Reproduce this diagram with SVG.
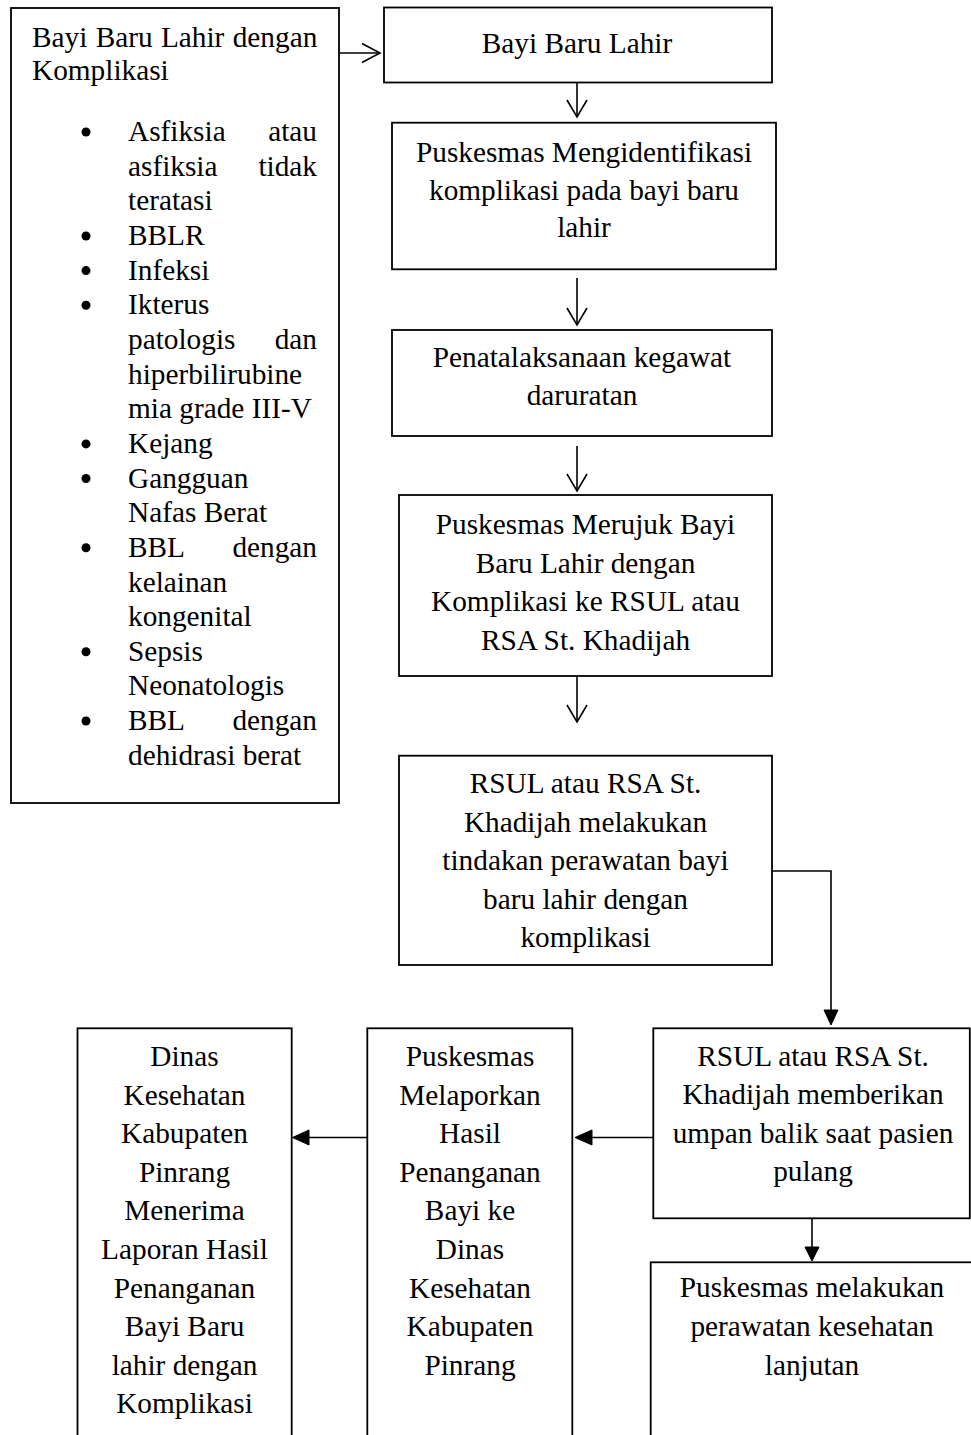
<svg xmlns="http://www.w3.org/2000/svg" width="971" height="1435" viewBox="0 0 971 1435">
<style>
  .box { fill: #fff; stroke: #000; stroke-width: 1.8; }
  .t { font-family: "Liberation Serif", "Times New Roman", serif; font-size: 29.3px; fill: #000; }
  .c { text-anchor: middle; }
  .e { text-anchor: end; }
  .ln { fill: none; stroke: #000; stroke-width: 1.6; }
  .head { fill: #000; stroke: #000; stroke-width: 1; }
</style>
<rect width="971" height="1435" fill="#fff"/>

<g id="connectors">
  <!-- left box to Bayi Baru Lahir -->
  <line class="ln" x1="339" y1="53" x2="380" y2="53"/>
  <polyline class="ln" points="362,43.5 380,53 362,62.5"/>
  <!-- vertical open arrows -->
  <line class="ln" x1="577" y1="83" x2="577" y2="117"/>
  <polyline class="ln" points="567,100 577,117 587,100"/>
  <line class="ln" x1="577" y1="278" x2="577" y2="325"/>
  <polyline class="ln" points="567,308 577,325 587,308"/>
  <line class="ln" x1="577" y1="446" x2="577" y2="491"/>
  <polyline class="ln" points="567,474 577,491 587,474"/>
  <line class="ln" x1="577" y1="676" x2="577" y2="722"/>
  <polyline class="ln" points="567,705 577,722 587,705"/>
  <!-- elbow to RSUL memberikan -->
  <polyline class="ln" points="772,871 831,871 831,1012"/>
  <polygon class="head" points="824,1010 838,1010 831,1025"/>
  <!-- down to Puskesmas melakukan -->
  <line class="ln" x1="812" y1="1218" x2="812" y2="1248"/>
  <polygon class="head" points="805,1247 819,1247 812,1261"/>
  <!-- leftward arrows -->
  <line class="ln" x1="653" y1="1137.5" x2="590" y2="1137.5"/>
  <polygon class="head" points="592,1130 592,1145 575,1137.5"/>
  <line class="ln" x1="367" y1="1137.5" x2="307" y2="1137.5"/>
  <polygon class="head" points="309,1130 309,1145 292.5,1137.5"/>
</g>

<g id="node-komplikasi">
  <rect class="box" x="11" y="8" width="328" height="795"/>
  <text class="t" x="32" y="46.7" word-spacing="1">Bayi Baru Lahir dengan</text>
  <text class="t" x="32" y="80">Komplikasi</text>
  <g fill="#000">
    <circle cx="86" cy="132" r="4.5"/>
    <circle cx="86" cy="236" r="4.5"/>
    <circle cx="86" cy="270.6" r="4.5"/>
    <circle cx="86" cy="305.3" r="4.5"/>
    <circle cx="86" cy="443.9" r="4.5"/>
    <circle cx="86" cy="478.5" r="4.5"/>
    <circle cx="86" cy="547.8" r="4.5"/>
    <circle cx="86" cy="651.8" r="4.5"/>
    <circle cx="86" cy="721" r="4.5"/>
  </g>
  <text class="t" x="128" y="141">Asfiksia</text>
  <text class="t e" x="317" y="141">atau</text>
  <text class="t" x="128" y="175.7">asfiksia</text>
  <text class="t e" x="317" y="175.7">tidak</text>
  <text class="t" x="128" y="210.3">teratasi</text>
  <text class="t" x="128" y="245">BBLR</text>
  <text class="t" x="128" y="279.6">Infeksi</text>
  <text class="t" x="128" y="314.3">Ikterus</text>
  <text class="t" x="128" y="348.9">patologis</text>
  <text class="t e" x="317" y="348.9">dan</text>
  <text class="t" x="128" y="383.6">hiperbilirubine</text>
  <text class="t" x="128" y="418.2">mia grade III-V</text>
  <text class="t" x="128" y="452.9">Kejang</text>
  <text class="t" x="128" y="487.5">Gangguan</text>
  <text class="t" x="128" y="522.2">Nafas Berat</text>
  <text class="t" x="128" y="556.8">BBL</text>
  <text class="t e" x="317" y="556.8">dengan</text>
  <text class="t" x="128" y="591.5">kelainan</text>
  <text class="t" x="128" y="626.1">kongenital</text>
  <text class="t" x="128" y="660.8">Sepsis</text>
  <text class="t" x="128" y="695.4">Neonatologis</text>
  <text class="t" x="128" y="730">BBL</text>
  <text class="t e" x="317" y="730">dengan</text>
  <text class="t" x="128" y="764.7">dehidrasi berat</text>
</g>

<g id="node-bbl">
  <rect class="box" x="384" y="7.5" width="388" height="75"/>
  <text class="t c" x="577" y="53.3">Bayi Baru Lahir</text>
</g>

<g id="node-identifikasi">
  <rect class="box" x="392" y="122.7" width="384" height="146.6"/>
  <text class="t c" x="584" y="161.7">Puskesmas Mengidentifikasi</text>
  <text class="t c" x="584" y="199.5">komplikasi pada bayi baru</text>
  <text class="t c" x="584" y="237.3">lahir</text>
</g>

<g id="node-penatalaksanaan">
  <rect class="box" x="392" y="330" width="380" height="106"/>
  <text class="t c" x="582" y="367">Penatalaksanaan kegawat</text>
  <text class="t c" x="582" y="405">daruratan</text>
</g>

<g id="node-merujuk">
  <rect class="box" x="399" y="495" width="373" height="181"/>
  <text class="t c" x="585.5" y="534">Puskesmas Merujuk Bayi</text>
  <text class="t c" x="585.5" y="572.5">Baru Lahir dengan</text>
  <text class="t c" x="585.5" y="611">Komplikasi ke RSUL atau</text>
  <text class="t c" x="585.5" y="649.5">RSA St. Khadijah</text>
</g>

<g id="node-perawatan">
  <rect class="box" x="399" y="755.7" width="373" height="209.3"/>
  <text class="t c" x="585.5" y="793">RSUL atau RSA St.</text>
  <text class="t c" x="585.5" y="831.7">Khadijah melakukan</text>
  <text class="t c" x="585.5" y="870">tindakan perawatan bayi</text>
  <text class="t c" x="585.5" y="908.5">baru lahir dengan</text>
  <text class="t c" x="585.5" y="947">komplikasi</text>
</g>

<g id="node-umpan-balik">
  <rect class="box" x="653.3" y="1028.3" width="316.5" height="190"/>
  <text class="t c" x="813" y="1065.5">RSUL atau RSA St.</text>
  <text class="t c" x="813" y="1104">Khadijah memberikan</text>
  <text class="t c" x="813" y="1142.5">umpan balik saat pasien</text>
  <text class="t c" x="813" y="1181">pulang</text>
</g>

<g id="node-lanjutan">
  <rect class="box" x="650.7" y="1262.3" width="330" height="200"/>
  <text class="t c" x="812" y="1297">Puskesmas melakukan</text>
  <text class="t c" x="812" y="1335.5">perawatan kesehatan</text>
  <text class="t c" x="812" y="1374.5">lanjutan</text>
</g>

<g id="node-melaporkan">
  <rect class="box" x="367.3" y="1028.3" width="205" height="430"/>
  <text class="t c" x="470" y="1066">Puskesmas</text>
  <text class="t c" x="470" y="1104.6">Melaporkan</text>
  <text class="t c" x="470" y="1143.2">Hasil</text>
  <text class="t c" x="470" y="1181.8">Penanganan</text>
  <text class="t c" x="470" y="1220.4">Bayi ke</text>
  <text class="t c" x="470" y="1259">Dinas</text>
  <text class="t c" x="470" y="1297.6">Kesehatan</text>
  <text class="t c" x="470" y="1336.2">Kabupaten</text>
  <text class="t c" x="470" y="1374.8">Pinrang</text>
</g>

<g id="node-dinas">
  <rect class="box" x="77.5" y="1028.3" width="214.2" height="430"/>
  <text class="t c" x="184.5" y="1066">Dinas</text>
  <text class="t c" x="184.5" y="1104.6">Kesehatan</text>
  <text class="t c" x="184.5" y="1143.2">Kabupaten</text>
  <text class="t c" x="184.5" y="1181.8">Pinrang</text>
  <text class="t c" x="184.5" y="1220.4">Menerima</text>
  <text class="t c" x="184.5" y="1259">Laporan Hasil</text>
  <text class="t c" x="184.5" y="1297.6">Penanganan</text>
  <text class="t c" x="184.5" y="1336.2">Bayi Baru</text>
  <text class="t c" x="184.5" y="1374.8">lahir dengan</text>
  <text class="t c" x="184.5" y="1413.4">Komplikasi</text>
</g>
</svg>
